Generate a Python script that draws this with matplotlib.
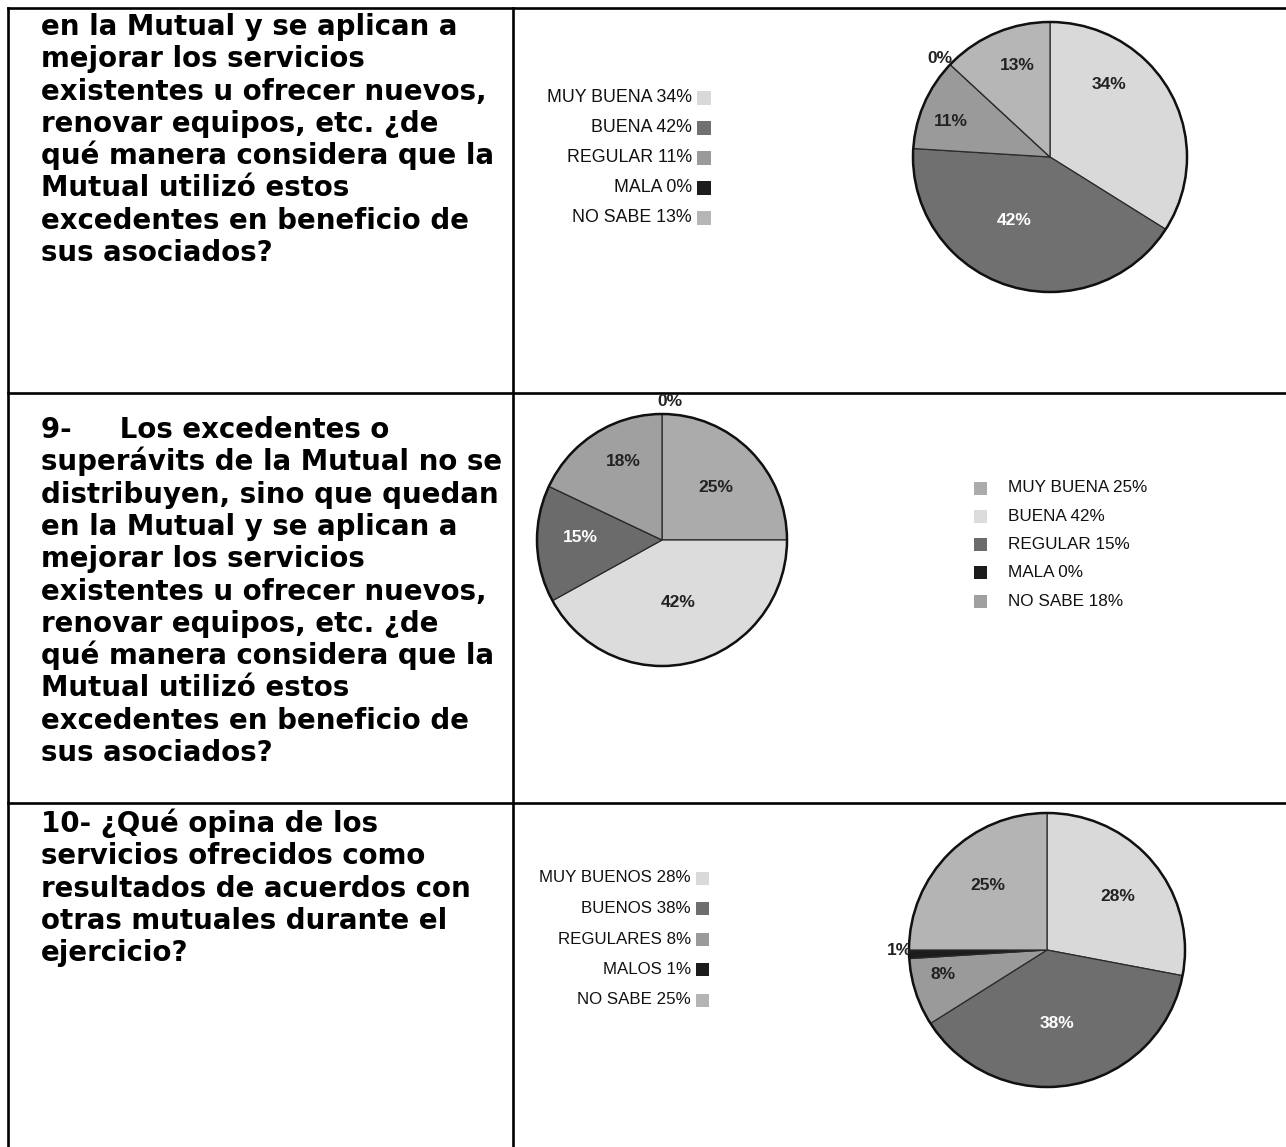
import matplotlib.pyplot as plt
from matplotlib.patches import Rectangle, Ellipse

W, H = 1286, 1147

# ---- data -------------------------------------------------------------
q8_cats = ['MUY BUENA', 'BUENA', 'REGULAR', 'MALA', 'NO SABE']
q8_values = [34, 42, 11, 0, 13]
q8_colors = ['#d9d9d9', '#707070', '#9a9a9a', '#1c1c1c', '#b6b6b6']

q9_cats = ['MUY BUENA', 'BUENA', 'REGULAR', 'MALA', 'NO SABE']
q9_values = [25, 42, 15, 0, 18]
q9_colors = ['#ababab', '#dcdcdc', '#6b6b6b', '#1c1c1c', '#a0a0a0']

q10_cats = ['MUY BUENOS', 'BUENOS', 'REGULARES', 'MALOS', 'NO SABE']
q10_values = [28, 38, 8, 1, 25]
q10_colors = ['#d9d9d9', '#6e6e6e', '#9a9a9a', '#1c1c1c', '#b4b4b4']

row1_text = ["en la Mutual y se aplican a", "mejorar los servicios",
             "existentes u ofrecer nuevos,", "renovar equipos, etc. ¿de",
             "qué manera considera que la", "Mutual utilizó estos",
             "excedentes en beneficio de", "sus asociados?"]
row2_text = ["9-     Los excedentes o", "superávits de la Mutual no se",
             "distribuyen, sino que quedan", "en la Mutual y se aplican a",
             "mejorar los servicios", "existentes u ofrecer nuevos,",
             "renovar equipos, etc. ¿de", "qué manera considera que la",
             "Mutual utilizó estos", "excedentes en beneficio de",
             "sus asociados?"]
row3_text = ["10- ¿Qué opina de los", "servicios ofrecidos como",
             "resultados de acuerdos con", "otras mutuales durante el",
             "ejercicio?"]

CHART_FONT = ['Liberation Sans', 'DejaVu Sans']

fig = plt.figure(figsize=(W / 100, H / 100), dpi=100, facecolor='white')
ax = fig.add_axes([0, 0, 1, 1])
ax.set_xlim(0, W)
ax.set_ylim(H, 0)
ax.axis('off')

# table grid
lw = 1.9
ax.plot([8, W], [8, 8], color='black', lw=lw)
ax.plot([8, W], [393, 393], color='black', lw=lw)
ax.plot([8, W], [803, 803], color='black', lw=lw)
ax.plot([8, 8], [8, H], color='black', lw=lw)
ax.plot([513, 513], [8, H], color='black', lw=lw)

# question text
def draw_lines(lines, y0, step=32.3):
    for i, line in enumerate(lines):
        ax.text(41, y0 + i * step, line, fontsize=19.9, fontweight='bold',
                family='DejaVu Sans', va='baseline', ha='left', color='black')

draw_lines(row1_text, 35)
draw_lines(row2_text, 438)
draw_lines(row3_text, 832)


def draw_pie(cx, cy, rx, ry, values, colors, label_pos, light_text):
    pad = 1.03
    pax = fig.add_axes([(cx - rx * pad) / W, 1 - (cy + ry * pad) / H,
                        2 * rx * pad / W, 2 * ry * pad / H])
    pax.pie(values, colors=colors, startangle=90, counterclock=False,
            wedgeprops=dict(edgecolor='#2a2a2a', linewidth=0.9))
    pax.set_aspect('auto')
    pax.set_xlim(-pad, pad)
    pax.set_ylim(-pad, pad)
    pax.add_patch(Ellipse((0, 0), 2, 2, fill=False, lw=1.8, ec='#111111'))
    for v, (lx, ly), wt in zip(values, label_pos, light_text):
        pax.text(lx, ly, f'{v}%', ha='center', va='center', fontsize=12.5,
                 fontweight='bold', family=CHART_FONT,
                 color='white' if wt else '#222222', clip_on=False)


def legend_left(cats, values, colors, x_right, y0, step, size, fs):
    for i, (c, v, col) in enumerate(zip(cats, values, colors)):
        y = y0 + i * step
        ax.text(x_right, y, f'{c} {v}%', ha='right', va='center',
                fontsize=fs, family=CHART_FONT, color='#111111')
        ax.add_patch(Rectangle((x_right + 5, y - size / 2), size, size,
                               facecolor=col, edgecolor='none'))


def legend_right(cats, values, colors, x_box, y0, step, size, fs):
    for i, (c, v, col) in enumerate(zip(cats, values, colors)):
        y = y0 + i * step
        ax.add_patch(Rectangle((x_box, y - size / 2), size, size,
                               facecolor=col, edgecolor='none'))
        ax.text(x_box + size + 21, y, f'{c} {v}%', ha='left', va='center',
                fontsize=fs, family=CHART_FONT, color='#111111')


# pie 1
draw_pie(1050, 157, 137, 135, q8_values, q8_colors,
         [(0.43, 0.54), (-0.26, -0.47), (-0.72, 0.26), (-0.80, 0.73), (-0.24, 0.68)],
         [False, True, False, False, False])
legend_left(q8_cats, q8_values, q8_colors, 692, 98, 30, 14, 12.8)

# pie 2
draw_pie(662, 540, 125, 126, q9_values, q9_colors,
         [(0.43, 0.42), (0.13, -0.5), (-0.65, 0.02), (0.06, 1.10), (-0.31, 0.62)],
         [False, False, True, False, False])
legend_right(q9_cats, q9_values, q9_colors, 974, 488, 28.3, 13, 12.3)

# pie 3
draw_pie(1047, 950, 138, 137, q10_values, q10_colors,
         [(0.51, 0.39), (0.07, -0.54), (-0.75, -0.18), (-1.07, 0.0), (-0.43, 0.47)],
         [False, True, False, False, False])
legend_left(q10_cats, q10_values, q10_colors, 691, 878, 30.5, 13, 12.2)

fig.savefig('out.png', dpi=100, facecolor='white')
